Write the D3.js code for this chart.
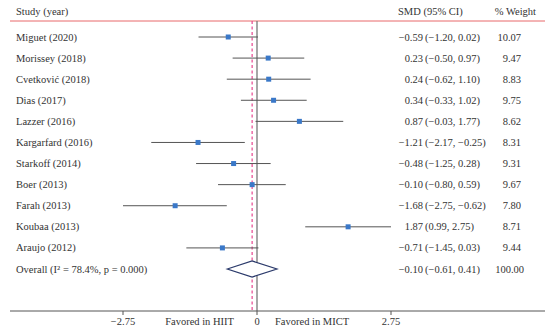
<!DOCTYPE html>
<html><head><meta charset="utf-8">
<script src="https://cdn.jsdelivr.net/npm/d3@7"></script>
<style>body{margin:0;background:#fff}svg{display:block}text{font-family:"Liberation Serif","Times New Roman",serif;font-size:10.5px;fill:#333}</style>
</head><body><svg id="c" width="550" height="332"></svg>
<script>
const studies = ["Miguet (2020)","Morissey (2018)","Cvetković (2018)","Dias (2017)","Lazzer (2016)","Kargarfard (2016)","Starkoff (2014)","Boer (2013)","Farah (2013)","Koubaa (2013)","Araujo (2012)"];
const smd   = [-0.59, 0.23, 0.24, 0.34, 0.87, -1.21, -0.48, -0.10, -1.68, 1.87, -0.71];
const lower = [-1.20,-0.50,-0.62,-0.33,-0.03,-2.17,-1.25,-0.80,-2.75, 0.99,-1.45];
const upper = [ 0.02, 0.97, 1.10, 1.02, 1.77,-0.25, 0.28, 0.59,-0.62, 2.75, 0.03];
const weights = ["10.07","9.47","8.83","9.75","8.62","8.31","9.31","9.67","7.80","8.71","9.44"];
const overall = {label:"Overall  (I² = 78.4%, p = 0.000)", est:-0.10, lo:-0.61, hi:0.41, w:"100.00"};
const ticks = [-2.75, 0, 2.75];

const svg = d3.select("#c");
const x = d3.scaleLinear().domain([-2.75, 2.75]).range([123, 391]);
const y = d3.scaleLinear().domain([0, 11]).range([37, 269]);
const fmt = v => (v<0?"−":"")+Math.abs(v).toFixed(2);

// header
svg.append("text").attr("x",16).attr("y",15).text("Study (year)");
svg.append("text").attr("x",398).attr("y",15).text("SMD (95% CI)");
svg.append("text").attr("x",536).attr("y",15).attr("text-anchor","end").text("% Weight");
svg.append("line").attr("x1",10).attr("x2",545).attr("y1",21).attr("y2",21).attr("stroke","#e8686a").attr("stroke-width",1);

// reference lines
svg.append("line").attr("x1",x(0)).attr("x2",x(0)).attr("y1",21).attr("y2",311).attr("stroke","#777").attr("stroke-width",1.3);
svg.append("line").attr("x1",x(overall.est)).attr("x2",x(overall.est)).attr("y1",21).attr("y2",311)
  .attr("stroke","#e8458f").attr("stroke-width",1.2).attr("stroke-dasharray","3,2.5");

// rows
const rows = studies.map((s,i)=>({s,e:smd[i],lo:lower[i],hi:upper[i],w:weights[i],i}));
const g = svg.append("g");
rows.forEach(r=>{
  const yy = y(r.i);
  g.append("text").attr("x",16).attr("y",yy+3.5).text(r.s);
  g.append("line").attr("x1",x(r.lo)).attr("x2",x(r.hi)).attr("y1",yy).attr("y2",yy).attr("stroke","#555").attr("stroke-width",1);
  g.append("rect").attr("x",x(r.e)-2.5).attr("y",yy-2.5).attr("width",5).attr("height",5).attr("fill","#3a78c8");
  g.append("text").attr("x",423).attr("y",yy+3.5).attr("text-anchor","end").text(fmt(r.e));
  g.append("text").attr("x",425).attr("y",yy+3.5).text("("+fmt(r.lo)+", "+fmt(r.hi)+")");
  g.append("text").attr("x",521).attr("y",yy+3.5).attr("text-anchor","end").text(r.w);
});
// overall
const yo = y(11);
svg.append("text").attr("x",16).attr("y",yo+3.5).text(overall.label);
svg.append("path").attr("d",`M${x(overall.lo)},${yo} L${x(overall.est)},${yo-8} L${x(overall.hi)},${yo} L${x(overall.est)},${yo+8} Z`)
  .attr("fill","#fff").attr("stroke","#2b3a6b").attr("stroke-width",1.2);
svg.append("text").attr("x",423).attr("y",yo+3.5).attr("text-anchor","end").text(fmt(overall.est));
svg.append("text").attr("x",425).attr("y",yo+3.5).text("("+fmt(overall.lo)+", "+fmt(overall.hi)+")");
svg.append("text").attr("x",524).attr("y",yo+3.5).attr("text-anchor","end").text(overall.w);

// axis
svg.append("line").attr("x1",10).attr("x2",545).attr("y1",311).attr("y2",311).attr("stroke","#555").attr("stroke-width",1);
ticks.forEach(t=>{
  svg.append("line").attr("x1",x(t)).attr("x2",x(t)).attr("y1",311).attr("y2",315).attr("stroke","#555");
  svg.append("text").attr("x",x(t)).attr("y",325).attr("text-anchor","middle").text(t===0?"0":fmt(t));
});
svg.append("text").attr("x",234).attr("y",325).attr("text-anchor","end").text("Favored in HIIT");
svg.append("text").attr("x",275).attr("y",325).text("Favored in MICT");
</script></body></html>
